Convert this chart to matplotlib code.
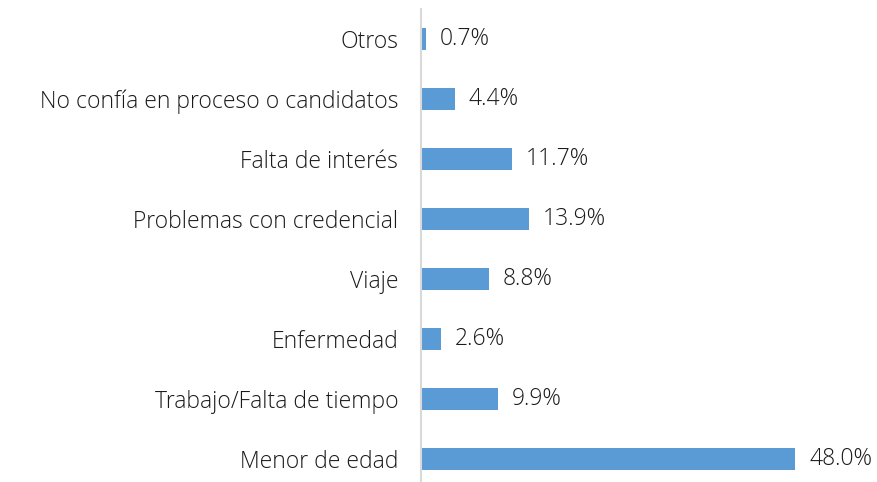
import matplotlib.pyplot as plt

categories = ["Menor de edad", "Trabajo/Falta de tiempo", "Enfermedad", "Viaje",
              "Problemas con credencial", "Falta de interés",
              "No confía en proceso o candidatos", "Otros"]
values = [48.0, 9.9, 2.6, 8.8, 13.9, 11.7, 4.4, 0.7]

plt.rcParams['font.family'] = ['Open Sans', 'DejaVu Sans']
plt.rcParams['font.weight'] = 'light'
text_color = '#1a1a1a'

fig = plt.figure(figsize=(8.77, 4.82), dpi=100)
# axes spans from the vertical axis line to the right edge
ax = fig.add_axes([420.5 / 877, 0, 453 / 877, 473 / 482])

pos = list(range(len(categories)))
ax.barh(pos, values, height=0.36, color='#5B9BD5')
for p, v in zip(pos, values):
    ax.annotate(f"{v:.1f}%", (v, p), xytext=(10, 0), textcoords='offset points',
                va='center', ha='left', fontsize=16.5, color=text_color)

ax.set_xlim(0, 58)
ax.set_ylim(-0.383, 7.5)
ax.set_yticks(pos)
ax.set_yticklabels(categories, fontsize=16.5, color=text_color)
ax.tick_params(axis='y', length=0, pad=16)
ax.set_xticks([])
for s in ['top', 'right', 'bottom']:
    ax.spines[s].set_visible(False)
ax.spines['left'].set_color('#d9d9d9')
ax.spines['left'].set_linewidth(1.5)

fig.savefig("out.png", dpi=100)
